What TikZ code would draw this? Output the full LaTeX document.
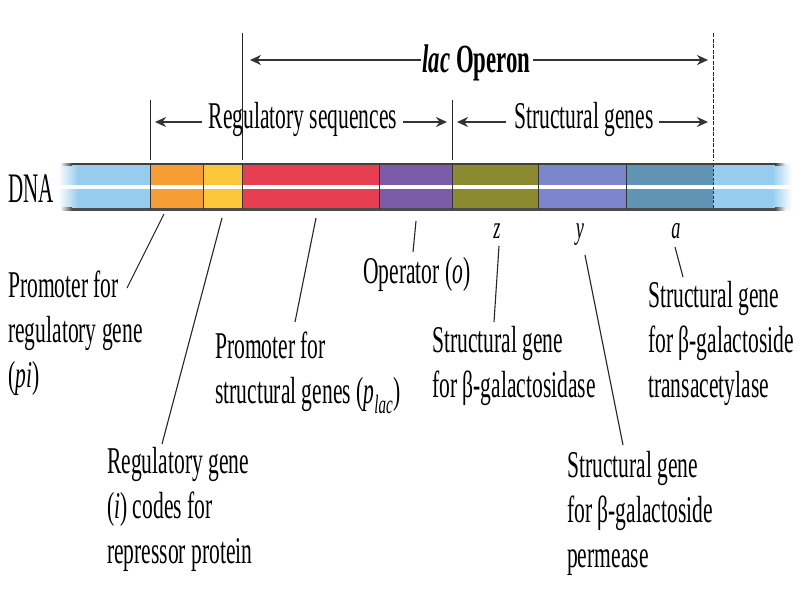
\documentclass[tikz,border=0pt]{standalone}
\usepackage{fontspec}
\setmainfont{Liberation Serif}
\newfontfamily\cf[FakeStretch=0.57]{Liberation Serif}
\newfontfamily\cfd[FakeStretch=0.5]{Liberation Serif}
\usetikzlibrary{arrows.meta}
\definecolor{lb}{RGB}{150,204,238}
\definecolor{orn}{RGB}{246,158,52}
\definecolor{yel}{RGB}{251,198,58}
\definecolor{rd}{RGB}{232,62,82}
\definecolor{pur}{RGB}{122,92,168}
\definecolor{olv}{RGB}{140,138,48}
\definecolor{bpu}{RGB}{124,134,204}
\definecolor{tea}{RGB}{96,148,178}
\begin{document}
\begin{tikzpicture}[x=1pt,y=-1pt,
  lbl/.style={font=\cf\fontsize{37.8}{45}\selectfont, inner sep=0pt, align=left, anchor=north west},
  hdr/.style={font=\cf\fontsize{37.8}{45}\selectfont, inner sep=0pt, anchor=base},
  gl/.style={font=\cf\itshape\fontsize{32}{34}\selectfont, inner sep=0pt, anchor=base},
  leader/.style={line width=1.1pt, black!85},
  dimarrow/.style={line width=2.2pt, black!80, -{Stealth[length=11pt,width=10pt]}},
  tick/.style={line width=1pt, black!85},
  divider/.style={line width=0.9pt, black!80}]
\useasboundingbox (0,0) rectangle (800,600);
\fill[white] (0,0) rectangle (800,600);

% ---- DNA bar ----
\shade[left color=white, right color=lb] (58,164) rectangle (78,209);
\fill[lb] (77.5,164) rectangle (150,209);
\fill[orn] (150,164) rectangle (203,209);
\fill[yel] (203,164) rectangle (242,209);
\fill[rd] (242,164) rectangle (379,209);
\fill[pur] (379,164) rectangle (452,209);
\fill[olv] (452,164) rectangle (538,209);
\fill[bpu] (538,164) rectangle (626,209);
\fill[tea] (626,164) rectangle (713,209);
\fill[lb] (713,164) rectangle (772.5,209);
\shade[left color=lb, right color=white] (772,164) rectangle (792,209);
\fill[white] (58,185) rectangle (792,188.5);
\shade[left color=white, right color=black!75] (60,163) rectangle (72,165);
\draw[line width=1.6pt, black!75] (72,164) -- (775,164);
\shade[left color=black!75, right color=white] (775,163) rectangle (786,165);
\shade[left color=white, right color=black!70] (60,207.5) rectangle (72,210.5);
\draw[line width=3pt, black!70] (72,209) -- (775,209);
\shade[left color=black!70, right color=white] (775,207.5) rectangle (786,210.5);
\foreach \xx in {150,203,242,379,452,538,626}
  \draw[divider] (\xx,164) -- (\xx,209);
\draw[divider, dash pattern=on 3pt off 1.5pt] (713,164) -- (713,209);

\node[font=\cfd\fontsize{42}{44}\selectfont, inner sep=0pt, anchor=base west] (dna) at (8,202) {DNA};

% ---- ticks ----
\draw[tick] (150,100) -- (150,160);
\draw[tick] (242,33) -- (242,160);
\draw[tick] (452,100) -- (452,160);
\draw[tick, dash pattern=on 4pt off 1.5pt] (713,33) -- (713,160);

% ---- lac operon span ----
\node[hdr, font=\cf\bfseries\fontsize{40}{44}\selectfont] (operon) at (476.5,72) {\textit{lac} Operon};
\coordinate (opL) at (421,60);
\coordinate (opLtip) at (250,60);
\coordinate (opR) at (533,60);
\coordinate (opRtip) at (708,60);
\draw[dimarrow] (opL) -- (opLtip);
\draw[dimarrow] (opR) -- (opRtip);

% ---- regulatory sequences span ----
\node[hdr] (regseq) at (303,128) {Regulatory sequences};
\coordinate (rsL) at (202,122);
\coordinate (rsLtip) at (155,122);
\coordinate (rsR) at (403,122);
\coordinate (rsRtip) at (447,122);
\draw[dimarrow] (rsL) -- (rsLtip);
\draw[dimarrow] (rsR) -- (rsRtip);

% ---- structural genes span ----
\node[hdr] (strgen) at (584,128) {Structural genes};
\coordinate (sgL) at (506,122);
\coordinate (sgLtip) at (457,122);
\coordinate (sgR) at (659,122);
\coordinate (sgRtip) at (708,122);
\draw[dimarrow] (sgL) -- (sgLtip);
\draw[dimarrow] (sgR) -- (sgRtip);

% ---- gene letters ----
\node[gl] (zl) at (497,238) {z};
\node[gl] (yl) at (580,238) {y};
\node[gl] (al) at (676,238) {a};

% ---- labels ----
\node[lbl] (pi) at (8,271) {Promoter for\\regulatory gene\\(\textit{pi})};
\node[lbl] (regg) at (107,447) {Regulatory gene\\(\textit{i}) codes for\\repressor protein};
\node[lbl] (plac) at (215,332) {Promoter for\\structural genes (\textit{p}\textsubscript{\textit{lac}})};
\node[lbl] (oper) at (363,257) {Operator (\textit{o})};
\node[lbl] (zgene) at (432,326) {Structural gene\\for β-galactosidase};
\node[lbl] (agene) at (648,281) {Structural gene\\for β-galactoside\\transacetylase};
\node[lbl] (ygene) at (567,451) {Structural gene\\for β-galactoside\\permease};

% ---- leader lines ----
\coordinate (piT) at (164,214);
\coordinate (piB) at (127,288);
\coordinate (iT) at (222,218);
\coordinate (iB) at (162,444);
\coordinate (plT) at (316,218);
\coordinate (plB) at (295,322);
\coordinate (oT) at (416,221);
\coordinate (oB) at (413,252);
\coordinate (zT) at (499,246);
\coordinate (zB) at (494,322);
\coordinate (yT) at (585,255);
\coordinate (yB) at (623,445);
\coordinate (aT) at (675,247);
\coordinate (aB) at (683,277);
\draw[leader] (piT) -- (piB);
\draw[leader] (iT) -- (iB);
\draw[leader] (plT) -- (plB);
\draw[leader] (oT) -- (oB);
\draw[leader] (zT) -- (zB);
\draw[leader] (yT) -- (yB);
\draw[leader] (aT) -- (aB);
\end{tikzpicture}
\end{document}
